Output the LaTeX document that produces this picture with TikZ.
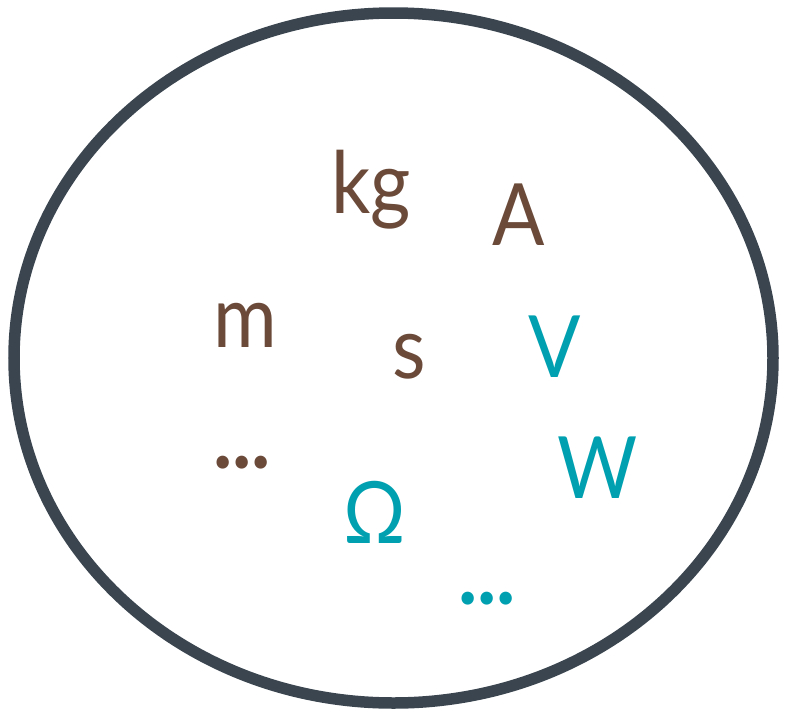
\documentclass[tikz,border=0pt]{standalone}
\usepackage{fontspec}
\setmainfont{Lato}
\definecolor{brn}{HTML}{6B4A3A}
\definecolor{teal}{HTML}{00A0B0}
\definecolor{rim}{HTML}{3A4550}
\begin{document}
\begin{tikzpicture}[x=1pt,y=-1pt,
  unit/.style={inner sep=0pt,anchor=base,font=\fontsize{86}{90}\selectfont,xscale=0.9,transform shape},
  base/.style={unit,text=brn},
  derived/.style={unit,text=teal},
  more/.style={font=\fontsize{86}{90}\selectfont\bfseries,xscale=1.05}]
\useasboundingbox (0,0) rectangle (788,716);
\draw[rim,line width=11.5pt] (393.5,358) ellipse [x radius=379.5, y radius=345];
\node[base] (kg) at (371,213) {kg};
\node[base] (A) at (519,245) {A};
\node[base] (m) at (245,347) {m};
\node[base] (s) at (409,378) {s};
\node[base,more] (dots1) at (242,468) {...};
\node[derived] (V) at (555,377) {V};
\node[derived] (W) at (598,498) {W};
\node[derived] (Om) at (375,543) {Ω};
\node[derived,more] (dots2) at (487,604) {...};
\end{tikzpicture}
\end{document}
